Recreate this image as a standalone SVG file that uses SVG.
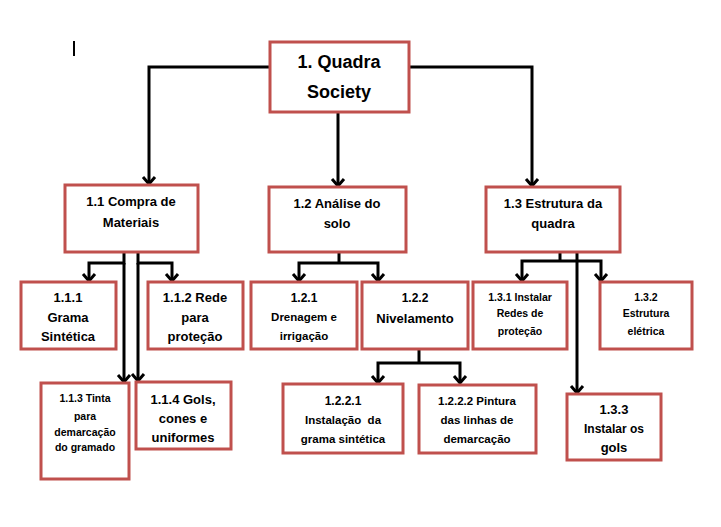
<svg xmlns="http://www.w3.org/2000/svg" width="721" height="527" viewBox="0 0 721 527">
<defs>
<style>
.box{fill:#fff;stroke:#C0504D;stroke-width:3}
.c{fill:none;stroke:#000;stroke-width:3;stroke-linejoin:miter}
.a{fill:none;stroke:#000;stroke-width:3;marker-end:url(#arr)}
text{font-family:"Liberation Sans",Arial,sans-serif;font-weight:bold;fill:#000;text-anchor:middle}
.f18{font-size:18px}
.f13{font-size:13px}
.f12{font-size:12px}
.f11{font-size:11.5px}
.f10{font-size:10.5px}
</style>
<marker id="arr" markerUnits="userSpaceOnUse" markerWidth="20" markerHeight="20" refX="0" refY="0" viewBox="-10 -10 20 20" orient="auto" overflow="visible">
<path d="M-7,-6 L0,0 L-7,6" fill="none" stroke="#000" stroke-width="3"/>
</marker>
</defs>
<rect width="721" height="527" fill="#fff"/>
<line x1="74" y1="41" x2="74" y2="56" stroke="#000" stroke-width="2"/>

<g id="connectors">
<path class="a" d="M270,67 H149 V184"/>
<path class="a" d="M338,112 V186"/>
<path class="a" d="M409,67 H532 V186"/>
<path class="a" d="M124,252 V263 H89 V281"/>
<path class="a" d="M138,252 V263 H172 V281"/>
<path class="a" d="M124,263 V382"/>
<path class="a" d="M138,263 V381"/>
<path class="c" d="M339,252 V263"/>
<path class="a" d="M339,263 H299 V281"/>
<path class="a" d="M339,263 H378 V281"/>
<path class="c" d="M560,252 V261"/>
<path class="a" d="M560,261 H522 V281"/>
<path class="a" d="M560,261 H601 V281"/>
<path class="a" d="M577,252 V393"/>
<path class="c" d="M419,349 V363"/>
<path class="a" d="M419,363 H378 V383"/>
<path class="a" d="M419,363 H460 V383"/>
</g>

<g id="n1">
<rect class="box" x="270" y="42" width="139" height="70"/>
<text class="f18" x="339" y="68">1. Quadra</text>
<text class="f18" x="339" y="98">Society</text>
</g>

<g id="n1_1">
<rect class="box" x="65" y="185" width="133" height="67"/>
<text class="f13" x="131" y="206">1.1 Compra de</text>
<text class="f13" x="131" y="227">Materiais</text>
</g>

<g id="n1_2">
<rect class="box" x="269" y="187" width="137" height="65"/>
<text class="f13" x="337" y="208">1.2 Análise do</text>
<text class="f13" x="337" y="228">solo</text>
</g>

<g id="n1_3">
<rect class="box" x="486" y="187" width="134" height="65"/>
<text class="f13" x="553" y="208">1.3 Estrutura da</text>
<text class="f13" x="553" y="228">quadra</text>
</g>

<g id="n1_1_1">
<rect class="box" x="21" y="282" width="95" height="67"/>
<text class="f13" x="68" y="302">1.1.1</text>
<text class="f13" x="68" y="322">Grama</text>
<text class="f13" x="68" y="341">Sintética</text>
</g>

<g id="n1_1_2">
<rect class="box" x="148" y="282" width="95" height="67"/>
<text class="f13" x="195" y="302">1.1.2 Rede</text>
<text class="f13" x="195" y="322">para</text>
<text class="f13" x="195" y="341">proteção</text>
</g>

<g id="n1_1_3">
<rect class="box" x="41" y="383" width="88" height="96"/>
<text class="f10" x="85" y="402">1.1.3 Tinta</text>
<text class="f10" x="85" y="420">para</text>
<text class="f10" x="85" y="436">demarcação</text>
<text class="f10" x="85" y="451">do gramado</text>
</g>

<g id="n1_1_4">
<rect class="box" x="136" y="382" width="95" height="67"/>
<text class="f13" x="183" y="404">1.1.4 Gols,</text>
<text class="f13" x="183" y="423">cones e</text>
<text class="f13" x="183" y="442">uniformes</text>
</g>

<g id="n1_2_1">
<rect class="box" x="251" y="282" width="106" height="67"/>
<text class="f12" x="304" y="302">1.2.1</text>
<text class="f11" x="304" y="321">Drenagem e</text>
<text class="f11" x="304" y="340">irrigação</text>
</g>

<g id="n1_2_2">
<rect class="box" x="362" y="282" width="106" height="67"/>
<text class="f12" x="415" y="302">1.2.2</text>
<text class="f13" x="415" y="323">Nivelamento</text>
</g>

<g id="n1_2_2_1">
<rect class="box" x="283" y="384" width="120" height="69"/>
<text class="f12" x="343" y="405">1.2.2.1</text>
<text class="f11" x="343" y="424">Instalação&#160; da</text>
<text class="f11" x="343" y="443">grama sintética</text>
</g>

<g id="n1_2_2_2">
<rect class="box" x="419" y="385" width="117" height="68"/>
<text class="f11" x="477" y="405">1.2.2.2 Pintura</text>
<text class="f11" x="477" y="424">das linhas de</text>
<text class="f11" x="477" y="443">demarcação</text>
</g>

<g id="n1_3_1">
<rect class="box" x="473" y="282" width="94" height="67"/>
<text class="f10" x="520" y="301">1.3.1 Instalar</text>
<text class="f10" x="520" y="317">Redes de</text>
<text class="f10" x="520" y="335">proteção</text>
</g>

<g id="n1_3_2">
<rect class="box" x="600" y="282" width="92" height="67"/>
<text class="f10" x="646" y="301">1.3.2</text>
<text class="f10" x="646" y="317">Estrutura</text>
<text class="f10" x="646" y="335">elétrica</text>
</g>

<g id="n1_3_3">
<rect class="box" x="567" y="394" width="94" height="66"/>
<text class="f13" x="614" y="414">1.3.3</text>
<text class="f12" x="614" y="433">Instalar os</text>
<text class="f13" x="614" y="452">gols</text>
</g>
</svg>
